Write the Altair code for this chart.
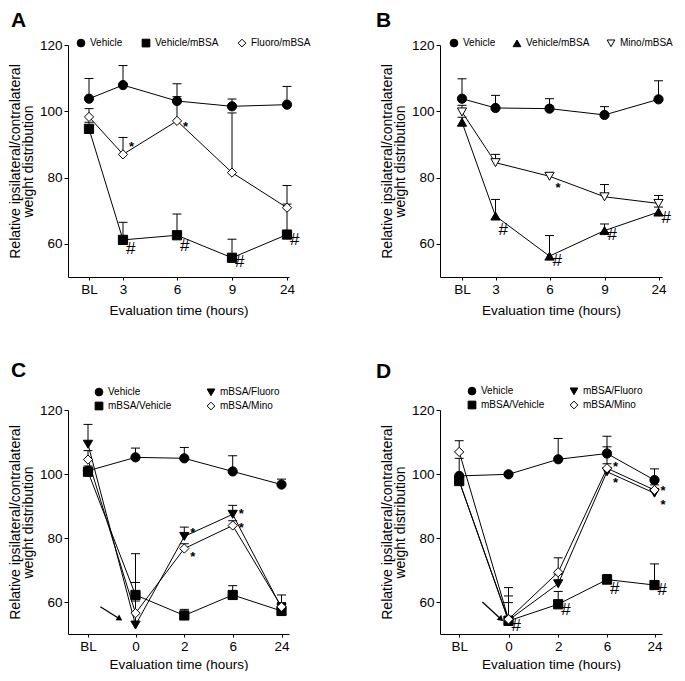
import altair as alt
import pandas as pd

FONT = "Liberation Sans"
BL = -1  # baseline time point, labelled "BL"

# ---------------- Panel A ----------------
A_times = [BL, 3, 6, 9, 24]
A_names = ["Vehicle", "Vehicle/mBSA", "Fluoro/mBSA"]
A_vehicle = [103.8, 107.9, 103.1, 101.5, 102.0]
A_vehicle_err = [6.1, 5.9, 5.2, 2.2, 5.5]
A_vehmbsa = [94.7, 61.2, 62.6, 55.8, 62.8]
A_vehmbsa_err = [2.0, 5.3, 6.4, 5.6, 9.2]
A_fluoro = [98.3, 87.0, 97.1, 81.5, 70.9]
A_fluoro_err = [2.5, 5.1, 7.3, 18.0, 6.7]
A_star_t = [3, 6]
A_star_y = [90.0, 96.3]
A_hash_t = [3, 6, 9, 24]
A_hash_y = [58.5, 59.5, 54.4, 61.2]

# ---------------- Panel B ----------------
B_times = [BL, 3, 6, 9, 24]
B_names = ["Vehicle", "Vehicle/mBSA", "Mino/mBSA"]
B_vehicle = [103.8, 101.0, 100.8, 98.9, 103.6]
B_vehicle_err = [6.0, 3.8, 3.0, 2.5, 5.6]
B_vehmbsa = [96.7, 68.4, 56.3, 64.0, 69.6]
B_vehmbsa_err = [1.5, 5.0, 6.2, 2.0, 1.5]
B_mino = [99.8, 84.5, 80.4, 74.2, 72.2]
B_mino_err = [2.0, 2.5, 1.0, 3.7, 2.4]
B_star_t = [6]
B_star_y = [77.9]
B_hash_t = [3, 6, 9, 24]
B_hash_y = [64.3, 54.8, 62.8, 67.9]

# ---------------- Panel C ----------------
C_times = [BL, 0, 2, 6, 24]
C_names = ["Vehicle", "mBSA/Fluoro", "mBSA/Vehicle", "mBSA/Mino"]
C_vehicle = [101.0, 105.2, 104.9, 100.8, 96.7]
C_vehicle_err = [1.5, 2.9, 3.4, 4.9, 1.7]
C_fluoro = [109.3, 52.8, 80.5, 87.4, 58.2]
C_fluoro_err = [6.2, 7.5, 2.9, 2.8, 1.6]
C_mbsaveh = [100.7, 62.2, 55.8, 62.2, 57.2]
C_mbsaveh_err = [1.0, 12.9, 1.9, 2.9, 5.0]
C_mino = [104.5, 56.5, 76.7, 83.9, 58.5]
C_mino_err = [2.8, 9.6, 1.5, 1.5, 1.0]
C_star_t = [2, 2, 6, 6]
C_star_y = [82.6, 75.1, 88.4, 84.0]
C_hash_t = []
C_hash_y = []
C_arrow = [-0.74, 58.5, -0.33, 54.7]  # (t0, y0) -> (t1, y1)

# ---------------- Panel D ----------------
D_times = [BL, 0, 2, 6, 24]
D_names = ["Vehicle", "mBSA/Fluoro", "mBSA/Vehicle", "mBSA/Mino"]
D_vehicle = [99.4, 99.9, 104.6, 106.4, 98.1]
D_vehicle_err = [5.5, 0.5, 6.5, 5.4, 3.5]
D_fluoro = [97.8, 54.3, 65.7, 100.7, 94.0]
D_fluoro_err = [1.5, 5.5, 3.0, 2.5, 1.5]
D_mbsaveh = [97.8, 54.1, 59.3, 67.0, 65.3]
D_mbsaveh_err = [1.5, 10.4, 4.0, 1.6, 6.6]
D_mino = [106.9, 54.6, 69.3, 101.8, 95.0]
D_mino_err = [3.5, 7.3, 4.5, 6.7, 1.6]
D_star_t = [6, 6, 24, 24]
D_star_y = [103.1, 98.1, 95.7, 91.4]
D_hash_t = [0, 2, 6, 24]
D_hash_y = [52.5, 57.5, 64.2, 63.7]
D_arrow = [-0.53, 60.0, -0.15, 54.6]

Y_TITLE = ["Relative ipsilateral/contralateral", "weight distribution"]
X_TITLE = "Evaluation time (hours)"


def frame(times, names, means, errs):
    rows = []
    for name, m, e in zip(names, means, errs):
        for t, v, d in zip(times, m, e):
            rows.append({"series": name, "t": t, "y": v, "top": v + d})
    return pd.DataFrame(rows)


def panel(df, names, shapes, fills, times, xdom, xrange, width, height,
          letter, letter_x, letter_y, legend, stars, hashes, arrow,
          xtitle_pad):
    xs = alt.Scale(domain=xdom, range=xrange)
    ys = alt.Scale(domain=[50, 120], nice=False, zero=False)
    xa = alt.Axis(values=times, labelExpr="datum.value == -1 ? 'BL' : datum.label",
                  title=X_TITLE, titlePadding=xtitle_pad, tickSize=3,
                  labelPadding=2, labelFlush=False, grid=False)
    ya = alt.Axis(values=[60, 80, 100, 120], title=Y_TITLE, titlePadding=4,
                  tickSize=4, labelPadding=2, grid=False, titleLineHeight=13,
                  titleFontSize=14)
    X = alt.X("t:Q", scale=xs, axis=xa)
    Y = alt.Y("y:Q", scale=ys, axis=ya)
    base = alt.Chart(df)
    lines = base.mark_line(color="black", strokeWidth=1).encode(
        x=X, y=Y, detail="series:N")
    bars = base.mark_rule(color="black", strokeWidth=1).encode(
        x=X, y=Y, y2="top:Q")
    caps = base.mark_point(shape="M-1,0L1,0", size=81, color="black",
                           strokeWidth=1, filled=False, opacity=1).encode(
        x=X, y=alt.Y("top:Q", scale=ys, axis=ya))
    pts = base.mark_point(filled=True, size=85, strokeWidth=1, opacity=1).encode(
        x=X, y=Y,
        shape=alt.Shape("series:N", scale=alt.Scale(domain=names, range=shapes),
                        legend=legend),
        fill=alt.Fill("series:N", scale=alt.Scale(domain=names, range=fills),
                      legend=legend),
        stroke=alt.Stroke("series:N",
                          scale=alt.Scale(domain=names, range=["black"] * len(names)),
                          legend=legend),
    )
    layers = [lines, bars, caps, pts]
    st_t, st_y = stars
    if st_t:
        sdf = pd.DataFrame({"t": st_t, "y": st_y, "s": ["*"] * len(st_t)})
        layers.append(alt.Chart(sdf).mark_text(
            font=FONT, fontSize=13, fontWeight="bold", align="left",
            baseline="middle", dx=6, dy=3, color="black").encode(
            x=X, y=Y, text="s:N"))
    h_t, h_y = hashes
    if h_t:
        hdf = pd.DataFrame({"t": h_t, "y": h_y, "s": ["#"] * len(h_t)})
        layers.append(alt.Chart(hdf).mark_text(
            font=FONT, fontSize=17, align="left", baseline="middle",
            dx=3, color="black").encode(x=X, y=Y, text="s:N"))
    if arrow:
        adf = pd.DataFrame({"t": [arrow[0]], "y": [arrow[1]],
                            "t2": [arrow[2]], "y2": [arrow[3]]})
        layers.append(alt.Chart(adf).mark_rule(color="black", strokeWidth=1.3).encode(
            x=X, y=Y, x2="t2:Q", y2="y2:Q"))
        layers.append(alt.Chart(adf).mark_point(
            shape="triangle-right", filled=True, color="black", size=45,
            opacity=1, angle=arrow[4]).encode(
            x=alt.X("t2:Q", scale=xs, axis=xa), y=alt.Y("y2:Q", scale=ys, axis=ya)))
    ldf = pd.DataFrame({"L": [letter]})
    layers.append(alt.Chart(ldf).mark_text(
        font=FONT, fontSize=21, fontWeight="bold", align="left",
        baseline="alphabetic", color="black").encode(
        x=alt.value(letter_x), y=alt.value(letter_y), text="L:N"))
    return alt.layer(*layers).properties(width=width, height=height)


def leg(x, y, cols=None, colpad=16):
    kw = dict(orient="none", legendX=x, legendY=y, direction="horizontal",
              title=None, labelFont=FONT, labelFontSize=10, labelColor="black",
              symbolSize=60, symbolStrokeWidth=1,
              columnPadding=colpad, rowPadding=2, padding=0, labelOffset=4)
    if cols:
        kw["columns"] = cols
    return alt.Legend(**kw)


dfA = frame(A_times, A_names, [A_vehicle, A_vehmbsa, A_fluoro],
            [A_vehicle_err, A_vehmbsa_err, A_fluoro_err])
dfB = frame(B_times, B_names, [B_vehicle, B_vehmbsa, B_mino],
            [B_vehicle_err, B_vehmbsa_err, B_mino_err])
dfC = frame(C_times, C_names, [C_vehicle, C_fluoro, C_mbsaveh, C_mino],
            [C_vehicle_err, C_fluoro_err, C_mbsaveh_err, C_mino_err])
dfD = frame(D_times, D_names, [D_vehicle, D_fluoro, D_mbsaveh, D_mino],
            [D_vehicle_err, D_fluoro_err, D_mbsaveh_err, D_mino_err])

W1, W2 = 221, 222
H1, H2 = 232, 224

pA = panel(dfA, A_names, ["circle", "square", "diamond"], ["black", "black", "white"],
           A_times, [-1.8, -1, 3, 6, 9, 24, 24.2], [0, 21, 55, 109, 164, 219, W1],
           W1, H1, "A", -57, -18, leg(8, -7, colpad=17),
           (A_star_t, A_star_y), (A_hash_t, A_hash_y), None, 7.5)
pB = panel(dfB, B_names, ["circle", "triangle-up", "triangle-down"], ["black", "black", "white"],
           B_times, [-1.8, -1, 3, 6, 9, 24, 24.2], [0, 22, 55.5, 109.5, 164.5, 218.5, W2],
           W2, H1, "B", -64, -18, leg(9, -7, colpad=15),
           (B_star_t, B_star_y), (B_hash_t, B_hash_y), None, 7.5)
pC = panel(dfC, C_names, ["circle", "triangle-down", "square", "diamond"],
           ["black", "black", "black", "white"],
           C_times, [-1.5, -1, 0, 2, 6, 24, 25], [0, 20, 67.5, 116.3, 164.7, 213.5, W1],
           W1, H2, "C", -57, -33, leg(26, -23, cols=2, colpad=33),
           (C_star_t, C_star_y), (C_hash_t, C_hash_y), C_arrow + [32], 5)
pD = panel(dfD, D_names, ["circle", "triangle-down", "square", "diamond"],
           ["black", "black", "black", "white"],
           D_times, [-1.5, -1, 0, 2, 6, 24, 25], [0, 19.2, 68.5, 118.2, 167, 214.5, W2],
           W2, H2, "D", -64, -32, leg(27, -24, cols=2, colpad=23),
           (D_star_t, D_star_y), (D_hash_t, D_hash_y), D_arrow + [43], 5)

chart = alt.concat(pA, pB, pC, pD, columns=2,
                   spacing={"row": 133, "column": 151}, bounds="flush").resolve_scale(
    x="independent", y="independent", shape="independent", fill="independent",
    stroke="independent"
).properties(padding={"left": 0, "top": 2, "right": 0, "bottom": 0}).configure_view(
    stroke=None
).configure_axis(
    domainColor="black", tickColor="black", labelColor="black", titleColor="black",
    labelFont=FONT, titleFont=FONT, labelFontSize=13.5, titleFontSize=13.5,
    titleFontWeight="normal", domainWidth=1, tickWidth=1
)

chart.save("out.html", embed_options={"renderer": "svg", "actions": False})
